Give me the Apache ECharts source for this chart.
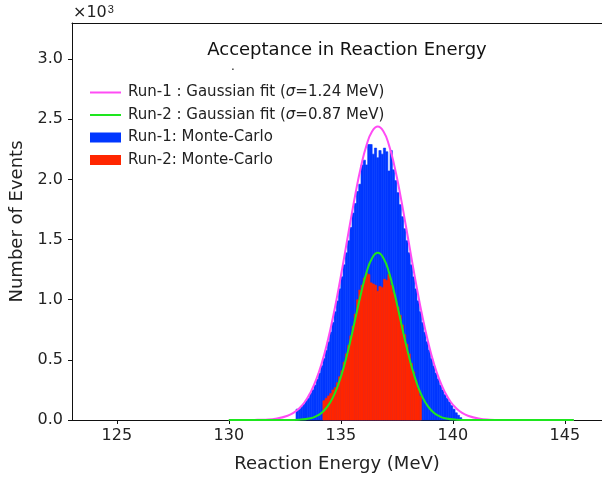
<!DOCTYPE html>
<html>
<head>
<meta charset="utf-8">
<script src="https://cdn.jsdelivr.net/npm/echarts@6/dist/echarts.min.js"></script>
<style>
html, body { margin: 0; padding: 0; background: #fff; }
#chart { width: 602px; height: 479px; }
</style>
</head>
<body>
<div id="chart"></div>
<script>
// histogram bins are 0.1 MeV wide, counts in units of 10^3
var binWidth = 0.1

var run1Start = 133.0
var run1Counts = [
  0.09, 0.09, 0.11, 0.13, 0.16, 0.18, 0.22, 0.25, 0.29, 0.34,
  0.39, 0.45, 0.51, 0.58, 0.65, 0.73, 0.81, 0.90, 0.99, 1.09,
  1.19, 1.29, 1.39, 1.49, 1.60, 1.72, 1.80, 1.90, 1.96, 2.12,
  2.16, 2.12, 2.29, 2.29, 2.21, 2.26, 2.18, 2.24, 2.21, 2.26,
  2.23, 2.07, 2.24, 2.08, 1.99, 1.89, 1.79, 1.69, 1.59, 1.49,
  1.39, 1.29, 1.19, 1.09, 0.99, 0.90, 0.81, 0.73, 0.65, 0.58,
  0.51, 0.45, 0.39, 0.34, 0.29, 0.25, 0.21, 0.18, 0.15, 0.12,
  0.09, 0.06, 0.04, 0.02
]

var run2Start = 134.2
var run2Counts = [
  0.16, 0.18, 0.20, 0.22, 0.25, 0.27, 0.31, 0.36, 0.41, 0.48,
  0.55, 0.62, 0.70, 0.78, 0.88, 1.00, 1.08, 1.12, 1.18, 1.22,
  1.21, 1.14, 1.13, 1.12, 1.07, 1.11, 1.10, 1.17, 1.16, 1.21,
  1.12, 1.06, 1.00, 0.94, 0.87, 0.79, 0.71, 0.63, 0.55, 0.47,
  0.40, 0.33, 0.26, 0.20
]

// gaussian fit curves
var fit1X = [
  130, 131.15, 131.65, 132.15, 132.65, 132.9, 133.15, 133.4, 133.65, 133.9,
  134.15, 134.4, 134.65, 134.9, 135.15, 135.4, 135.65, 135.9, 136.15, 136.4,
  136.65, 136.9, 137.15, 137.4, 137.65, 137.9, 138.15, 138.4, 138.65, 138.9,
  139.15, 139.4, 139.65, 139.9, 140.15, 140.4, 140.65, 141.15, 141.65, 142.15, 145.4
]
var fit1Y = [
  0, 0.001, 0.003, 0.012, 0.037, 0.061, 0.098, 0.152, 0.230, 0.335,
  0.473, 0.646, 0.854, 1.092, 1.352, 1.619, 1.877, 2.105, 2.285, 2.400,
  2.44, 2.400, 2.285, 2.105, 1.877, 1.619, 1.352, 1.092, 0.854, 0.646,
  0.473, 0.335, 0.230, 0.152, 0.098, 0.061, 0.037, 0.012, 0.003, 0.001, 0
]

var fit2X = [
  130, 132.65, 133.15, 133.65, 133.9, 134.15, 134.4, 134.65, 134.9, 135.15,
  135.4, 135.65, 135.9, 136.15, 136.4, 136.65, 136.9, 137.15, 137.4, 137.65,
  137.9, 138.15, 138.4, 138.65, 138.9, 139.15, 139.4, 139.65, 140.15, 140.65, 145.4
]
var fit2Y = [
  0, 0, 0.003, 0.015, 0.032, 0.061, 0.111, 0.188, 0.301, 0.451,
  0.636, 0.843, 1.049, 1.227, 1.347, 1.39, 1.347, 1.227, 1.049, 0.843,
  0.636, 0.451, 0.301, 0.188, 0.111, 0.061, 0.032, 0.015, 0.003, 0, 0
]

var xTicks = [125, 130, 135, 140, 145]
var yTicks = [0, 0.5, 1.0, 1.5, 2.0, 2.5, 3.0]

var names = [
  'Run-1 : Gaussian fit (σ=1.24 MeV)',
  'Run-2 : Gaussian fit (σ=0.87 MeV)',
  'Run-1: Monte-Carlo',
  'Run-2: Monte-Carlo'
]

var FONT = 'DejaVu Sans'

function bins (start, counts) {
  var out = []
  for (var i = 0; i < counts.length; i++) {
    out.push([+(start + i * binWidth).toFixed(2), counts[i]])
  }
  return out
}

function pairs (xs, ys) {
  var out = []
  for (var i = 0; i < xs.length; i++) out.push([xs[i], ys[i]])
  return out
}

function histItem (params, api) {
  var x = api.value(0)
  var p0 = api.coord([x, 0])
  var p1 = api.coord([x + binWidth, api.value(1)])
  var c = api.visual('color')
  return {
    type: 'rect',
    shape: { x: p0[0], y: p1[1], width: p1[0] - p0[0], height: p0[1] - p1[1] },
    style: { fill: c, stroke: c, lineWidth: 0.6 }
  }
}

var chart = echarts.init(document.getElementById('chart'), null, { renderer: 'canvas' })

var option = {
  animation: false,
  backgroundColor: '#fff',
  textStyle: { fontFamily: FONT },
  grid: { left: 72, right: 0, top: 23, bottom: 59 },
  legend: {
    orient: 'vertical',
    left: 85,
    top: 79,
    itemWidth: 31,
    itemHeight: 10,
    itemGap: 5.5,
    selectedMode: false,
    textStyle: {
      fontFamily: FONT, fontSize: 15, color: '#222', lineHeight: 17,
      padding: [0, 0, 0, 2],
      rich: { i: { fontFamily: FONT, fontSize: 15, fontStyle: 'italic', color: '#222' } }
    },
    formatter: function (name) { return name.replace('σ', '{i|σ}') },
    data: [
      { name: names[0], icon: 'path://M0,0H31V2H0Z' },
      { name: names[1], icon: 'path://M0,0H31V2H0Z' },
      { name: names[2], icon: 'rect' },
      { name: names[3], icon: 'rect' }
    ]
  },
  graphic: [
    {
      type: 'text', left: 73, top: 4,
      style: {
        text: '×10{s|3}',
        font: '16px "DejaVu Sans"', fill: '#222',
        rich: { s: { fontSize: 11, verticalAlign: 'top', padding: [0, 0, 7, 1], fill: '#222' } }
      }
    },
    {
      type: 'text', x: 347, y: 50,
      style: {
        text: 'Acceptance in Reaction Energy',
        font: '18px "DejaVu Sans"', fill: '#111',
        align: 'center', verticalAlign: 'middle'
      }
    },
    {
      type: 'text', x: 233, y: 67,
      style: { text: '.', font: '12px "DejaVu Sans"', fill: '#222', align: 'center', verticalAlign: 'middle' }
    }
  ],
  xAxis: [
    {
      type: 'value',
      min: 123,
      max: 146.66,
      name: 'Reaction Energy (MeV)',
      nameLocation: 'middle',
      nameGap: 35,
      nameTextStyle: { fontFamily: FONT, fontSize: 18, color: '#222' },
      axisLine: { show: true, onZero: false, lineStyle: { color: '#111', width: 1 } },
      axisTick: { show: true, length: 4, customValues: xTicks, lineStyle: { color: '#111' } },
      axisLabel: { customValues: xTicks, fontFamily: FONT, fontSize: 16, color: '#222', margin: 8 },
      splitLine: { show: false }
    },
    {
      type: 'value',
      position: 'top',
      min: 123,
      max: 146.66,
      axisLine: { show: true, onZero: false, lineStyle: { color: '#111', width: 1 } },
      axisTick: { show: false },
      axisLabel: { show: false },
      splitLine: { show: false }
    }
  ],
  yAxis: {
    type: 'value',
    min: 0,
    max: 3.3,
    name: 'Number of Events',
    nameLocation: 'middle',
    nameGap: 46,
    nameTextStyle: { fontFamily: FONT, fontSize: 18, color: '#222' },
    axisLine: { show: true, lineStyle: { color: '#111', width: 1 } },
    axisTick: { show: true, length: 4, customValues: yTicks, lineStyle: { color: '#111' } },
    axisLabel: {
      customValues: yTicks, fontFamily: FONT, fontSize: 16, color: '#222', margin: 9,
      formatter: function (v) { return v.toFixed(1) }
    },
    splitLine: { show: false }
  },
  series: [
    {
      name: names[2],
      type: 'custom',
      renderItem: histItem,
      itemStyle: { color: '#0037ff' },
      encode: { x: 0, y: 1 },
      data: bins(run1Start, run1Counts),
      z: 1
    },
    {
      name: names[3],
      type: 'custom',
      renderItem: histItem,
      itemStyle: { color: '#ff2600' },
      encode: { x: 0, y: 1 },
      data: bins(run2Start, run2Counts),
      z: 2
    },
    {
      name: names[0],
      type: 'line',
      data: pairs(fit1X, fit1Y),
      smooth: 0.5,
      showSymbol: false,
      itemStyle: { color: '#ff4cf4' },
      lineStyle: { color: '#ff4cf4', width: 2 },
      z: 3
    },
    {
      name: names[1],
      type: 'line',
      data: pairs(fit2X, fit2Y),
      smooth: 0.5,
      showSymbol: false,
      itemStyle: { color: '#1ee61e' },
      lineStyle: { color: '#1ee61e', width: 2 },
      z: 4
    }
  ]
}

chart.setOption(option)
</script>
</body>
</html>
